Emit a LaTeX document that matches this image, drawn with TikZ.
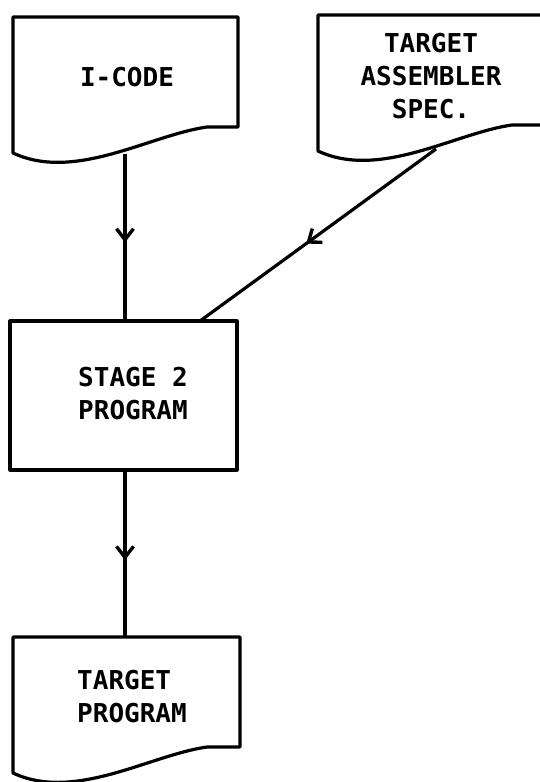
\documentclass[tikz,border=0pt]{standalone}
\usepackage{fontspec}
\setmonofont{DejaVu Sans Mono}
\usetikzlibrary{calc,arrows.meta,decorations.markings}
\newcommand\docoutline[1]{\draw[ink] (#1.north east) -- (#1.north west) -- (#1.south west)
  .. controls ($(#1.south west)+(62,29)$) and ($(#1.south west)+(137,-18)$) .. ($(#1.south west)+(194,-26)$)
  -- ($(#1.north east)+(0,110)$) -- cycle;}
\begin{document}
\begin{tikzpicture}[x=1pt,y=-1pt,
  ink/.style={line width=3.2pt, line join=round},
  docbox/.style={inner sep=0pt, outer sep=0pt, minimum width=225pt, minimum height=136pt, anchor=north west},
  procbox/.style={draw, ink, inner sep=0pt, outer sep=0pt, minimum width=227pt, minimum height=149pt, anchor=north west},
  txt/.style={font=\ttfamily\bfseries\fontsize{26}{33}\selectfont, align=center, inner sep=0pt},
  flow/.style={ink, postaction={decorate}, decoration={markings,
     mark=at position #1 with {\arrow{Straight Barb[length=11pt,width=17pt,line width=3.4pt]}}}}
]
\useasboundingbox (0,0) rectangle (540,782);
\clip (0,0) rectangle (540,782);

% shapes
\node[docbox] (icode) at (13,17) {};
\node[docbox, minimum width=230pt] (asm) at (318,15) {};
\node[procbox] (stage) at (10,321) {};
\node[docbox, minimum width=227pt] (tprog) at (13,637) {};
\docoutline{icode}
\docoutline{asm}
\docoutline{tprog}

% texts
\node[txt] (icodetxt) at (127,77) {I-CODE};
\node[txt] (asmtxt) at (431,76) {TARGET\\ASSEMBLER\\SPEC.};
\node[txt] (stagetxt) at (133,394) {STAGE 2\\PROGRAM};
\node[txt, align=left, anchor=west] (tprogtxt) at (77,697) {TARGET\\PROGRAM};

% connectors
\coordinate (icodeout) at (125,154);
\coordinate (asmout) at (436,149);
\coordinate (stagetop) at (200,321);
\draw[flow=0.53] (icodeout) -- (icodeout |- stage.north);
\draw[flow=0.55] (asmout) -- (stagetop);
\draw[flow=0.54] (icodeout |- stage.south) -- (icodeout |- tprog.north);
\end{tikzpicture}
\end{document}
